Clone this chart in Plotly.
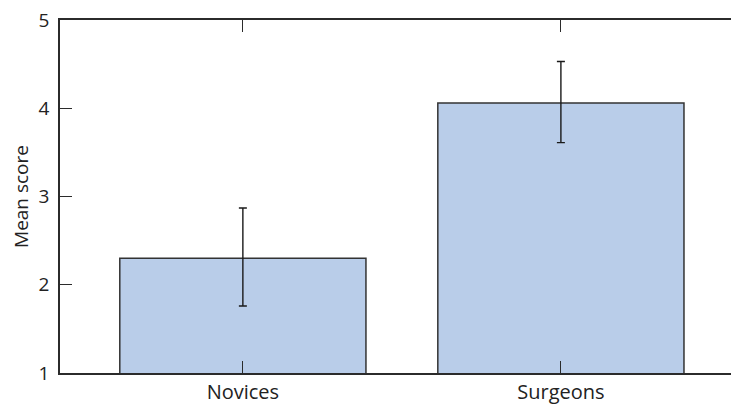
import plotly.graph_objects as go

categories = ["Novices", "Surgeons"]
mean_scores = [2.30, 4.06]
err_plus = [0.57, 0.47]
err_minus = [0.54, 0.45]
y_ticks = [1, 2, 3, 4, 5]

AX = "#2b2b2b"
FONT = "Open Sans"

fig = go.Figure()
fig.add_trace(go.Bar(
    x=categories, y=mean_scores, width=0.774,
    marker=dict(color="#b9cde9", line=dict(color="#333333", width=1.5)),
    error_y=dict(type="data", symmetric=False, array=err_plus, arrayminus=err_minus,
                 color="#1a1a1a", thickness=1.4, width=4),
    showlegend=False,
))
# invisible trace to hold the right-hand ticks
fig.add_trace(go.Scatter(x=categories, y=mean_scores, yaxis="y2", mode="markers",
                         marker=dict(opacity=0), showlegend=False, hoverinfo="skip"))

# page body has an 8px margin, so the figure is sized/offset to compensate
fig.update_layout(
    width=731, height=396,
    margin=dict(l=52, r=0, t=12, b=31, autoexpand=False),
    paper_bgcolor="white", plot_bgcolor="white",
    font=dict(family=FONT, size=19, color="#222222"),
    xaxis=dict(type="category", range=[-0.575, 1.56], showline=True, linecolor=AX, linewidth=1.5,
               mirror="ticks", ticks="inside", ticklen=12, tickcolor=AX, tickwidth=1.3,
               showgrid=False, zeroline=False, tickfont=dict(size=20),
               ticklabeloverflow="allow"),
    yaxis=dict(range=[1, 5], tickvals=y_ticks, showline=True, linecolor=AX, linewidth=1.5,
               ticks="inside", ticklen=12, tickcolor=AX, tickwidth=1.3, showgrid=False,
               zeroline=False, ticklabelstandoff=5, tickfont=dict(size=19),
               ticklabeloverflow="allow",
               title=dict(text="Mean score", font=dict(size=19), standoff=10)),
    yaxis2=dict(overlaying="y", side="right", range=[1, 5], tickvals=y_ticks,
                showticklabels=False, ticks="inside", ticklen=6, tickcolor=AX, tickwidth=1.3,
                showline=False, showgrid=False, zeroline=False),
)

fig.write_html("out.html")
